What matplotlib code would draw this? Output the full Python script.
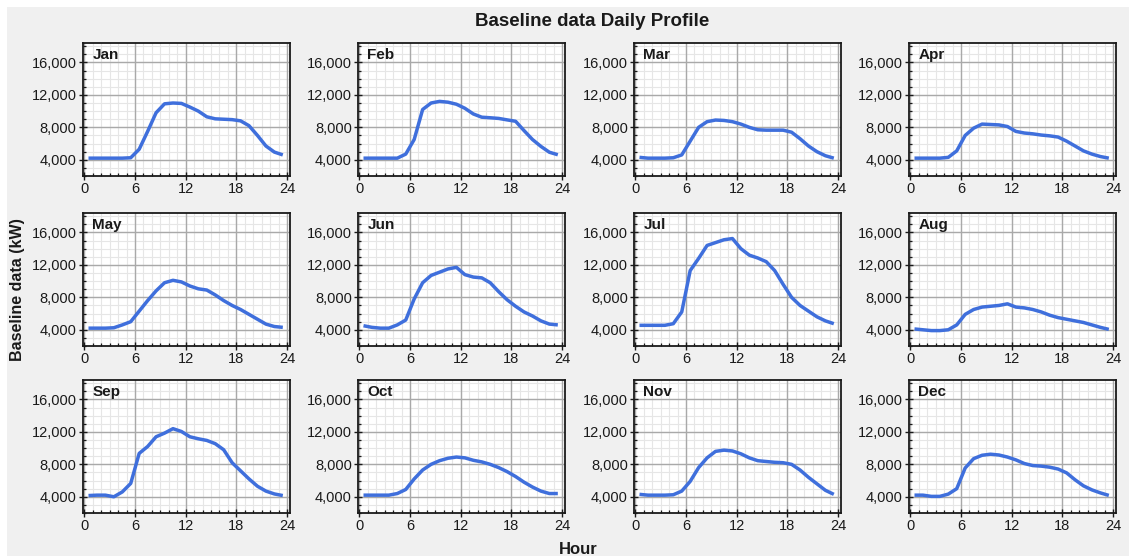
import matplotlib
matplotlib.use("Agg")
import matplotlib.pyplot as plt
from matplotlib.patches import Rectangle
from matplotlib.ticker import MultipleLocator, FuncFormatter

plt.rcParams['font.family'] = ['Liberation Sans', 'DejaVu Sans']

hours = [h + 0.5 for h in range(24)]

months = ["Jan", "Feb", "Mar", "Apr", "May", "Jun",
          "Jul", "Aug", "Sep", "Oct", "Nov", "Dec"]

jan = [4200, 4200, 4200, 4200, 4200, 4250, 5300, 7500, 9800, 10900, 11000, 10950,
       10500, 10000, 9300, 9050, 9000, 8950, 8800, 8200, 7000, 5700, 4950, 4600]
feb = [4200, 4200, 4200, 4200, 4200, 4700, 6500, 10200, 11000, 11200, 11100, 10850,
       10350, 9650, 9250, 9180, 9100, 8920, 8750, 7600, 6500, 5650, 4930, 4620]
mar = [4300, 4200, 4200, 4200, 4250, 4600, 6300, 8000, 8700, 8900, 8850, 8700,
       8400, 8000, 7700, 7650, 7650, 7650, 7400, 6600, 5700, 5000, 4500, 4200]
apr = [4200, 4200, 4200, 4200, 4300, 5100, 7000, 7900, 8400, 8350, 8300, 8100,
       7500, 7300, 7200, 7050, 6950, 6800, 6300, 5700, 5100, 4700, 4400, 4200]
may = [4200, 4200, 4200, 4250, 4600, 5000, 6300, 7600, 8800, 9800, 10100, 9900,
       9400, 9050, 8900, 8300, 7600, 7000, 6500, 5900, 5300, 4700, 4400, 4300]
jun = [4500, 4300, 4200, 4200, 4600, 5200, 7800, 9800, 10700, 11100, 11500, 11700,
       10800, 10500, 10400, 9800, 8700, 7700, 6900, 6200, 5700, 5100, 4700, 4600]
jul = [4550, 4550, 4550, 4550, 4750, 6200, 11300, 12800, 14400, 14750, 15100, 15250,
       14000, 13200, 12850, 12400, 11300, 9600, 8000, 7000, 6300, 5600, 5100, 4750]
aug = [4100, 4000, 3900, 3900, 4000, 4600, 5900, 6500, 6800, 6900, 7000, 7200,
       6800, 6700, 6500, 6200, 5800, 5500, 5300, 5100, 4900, 4600, 4300, 4050]
sep = [4150, 4200, 4200, 4000, 4600, 5650, 9350, 10200, 11400, 11850, 12400, 12050,
       11400, 11150, 10950, 10550, 9800, 8200, 7200, 6200, 5300, 4700, 4350, 4150]
oct_ = [4200, 4200, 4200, 4200, 4400, 4900, 6200, 7300, 8000, 8450, 8750, 8900,
        8800, 8500, 8300, 8000, 7600, 7100, 6500, 5800, 5200, 4700, 4400, 4400]
nov = [4300, 4200, 4200, 4200, 4250, 4700, 5900, 7600, 8800, 9600, 9750, 9650,
       9300, 8800, 8450, 8350, 8250, 8200, 8000, 7300, 6400, 5600, 4800, 4300]
dec = [4200, 4200, 4050, 4050, 4330, 5000, 7550, 8700, 9120, 9250, 9150, 8900,
       8550, 8100, 7850, 7780, 7650, 7420, 6950, 6100, 5350, 4850, 4480, 4170]

series = [jan, feb, mar, apr, may, jun, jul, aug, sep, oct_, nov, dec]

x_ticks = [0, 6, 12, 18, 24]
y_ticks = [4000, 8000, 12000, 16000]
x_minor = list(range(0, 25))
y_minor = list(range(2000, 18001, 1000))

W, H = 1129, 556
fig = plt.figure(figsize=(W / 100, H / 100), dpi=100, facecolor="white")
fig.patches.append(Rectangle((7 / W, 0), 1 - 7 / W, 1 - 7 / H,
                             transform=fig.transFigure, facecolor="#f0f0f0",
                             edgecolor="none", zorder=-10))

col_left = [83, 358, 634, 909]
row_top = [43, 213, 380]
aw, ah = 207, 133

line_color = "#3f6fdc"
ink = "#1a1a1a"
fmt = FuncFormatter(lambda v, p: f"{int(v):,}")

for i, (name, vals) in enumerate(zip(months, series)):
    r, c = divmod(i, 4)
    left = col_left[c] / W
    bottom = 1 - (row_top[r] + ah) / H
    ax = fig.add_axes([left, bottom, aw / W, ah / H])
    ax.set_facecolor("white")

    # light hourly / 1000 kW grid first, then the heavier major grid on top
    for xm in x_minor:
        ax.axvline(xm, color="#e6e6e6", lw=0.8, zorder=0.5)
    for ym in y_minor:
        ax.axhline(ym, color="#e6e6e6", lw=0.8, zorder=0.5)
    for xm in x_ticks:
        ax.axvline(xm, color="#a9a9a9", lw=1.0, zorder=1)
    for ym in y_ticks:
        ax.axhline(ym, color="#a9a9a9", lw=1.0, zorder=1)

    ax.plot(hours, vals, color=line_color, lw=2.5, solid_capstyle="butt", zorder=3)
    ax.set_xlim(-0.15, 24.35)
    ax.set_ylim(2000, 18400)
    ax.set_xticks(x_ticks)
    ax.set_yticks(y_ticks)
    ax.xaxis.set_minor_locator(MultipleLocator(1))
    ax.yaxis.set_minor_locator(MultipleLocator(1000))
    ax.yaxis.set_major_formatter(fmt)
    ax.tick_params(which="major", direction="inout", length=6, width=1.0,
                   labelsize=10.5, colors=ink, pad=1.5)
    ax.tick_params(which="minor", direction="in", length=2.5, width=0.9,
                   colors=ink)
    for s in ax.spines.values():
        s.set_color(ink)
        s.set_linewidth(1.3)
        s.set_zorder(4)
    ax.text(0.045, 0.965, name, transform=ax.transAxes, ha="left", va="top",
            fontsize=11, fontweight="bold", color=ink, zorder=5)

fig.text(592 / W, 1 - 22 / H, "Baseline data Daily Profile", ha="center",
         va="center", fontsize=13.5, fontweight="bold", color=ink)
fig.text(18 / W, 1 - 290 / H, "Baseline data (kW)", ha="center", va="center",
         rotation=90, fontsize=11.5, fontweight="bold", color=ink)
fig.text(578 / W, 1 - 549 / H, "Hour", ha="center", va="center",
         fontsize=12, fontweight="bold", color=ink)

fig.savefig("out.png", dpi=100, facecolor=fig.get_facecolor())
